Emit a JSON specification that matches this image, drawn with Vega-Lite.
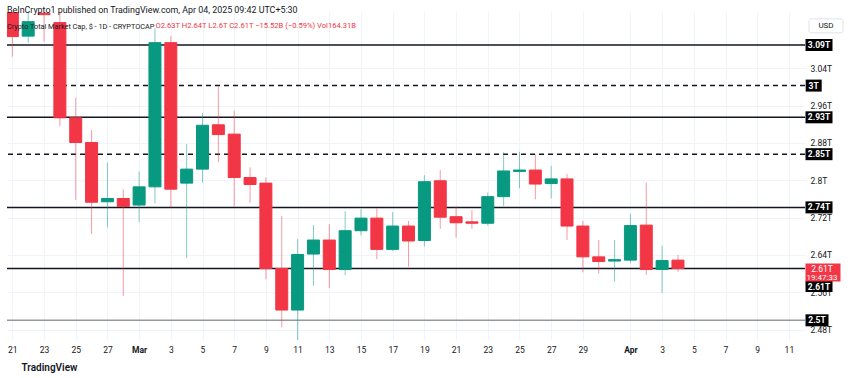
{
  "$schema": "https://vega.github.io/schema/vega-lite/v6.json",
  "width": 798,
  "height": 328,
  "autosize": {"type": "none"},
  "padding": {"left": 7, "top": 12, "right": 45, "bottom": 38},
  "background": "#ffffff",
  "title": {
    "text": "BeInCrypto1 published on TradingView.com, Apr 04, 2025 09:42 UTC+5:30",
    "subtitle": "Crypto Total Market Cap, $ - 1D - CRYPTOCAP",
    "anchor": "start",
    "frame": "group",
    "offset": -18,
    "fontSize": 8.9,
    "fontWeight": "normal",
    "color": "#131722",
    "subtitleFontSize": 7.3,
    "subtitleColor": "#131722",
    "subtitlePadding": 7.5,
    "dx": 0
  },
  "datasets": {
    "candles": [
      {"date": "2025-02-21", "open": 3.17, "high": 3.19, "low": 3.065, "close": 3.108},
      {"date": "2025-02-22", "open": 3.109, "high": 3.165, "low": 3.095, "close": 3.14},
      {"date": "2025-02-23", "open": 3.158, "high": 3.17, "low": 3.097, "close": 3.155},
      {"date": "2025-02-24", "open": 3.138, "high": 3.17, "low": 2.916, "close": 2.934},
      {"date": "2025-02-25", "open": 2.934, "high": 2.977, "low": 2.758, "close": 2.881},
      {"date": "2025-02-26", "open": 2.881, "high": 2.908, "low": 2.685, "close": 2.753},
      {"date": "2025-02-27", "open": 2.754, "high": 2.838, "low": 2.699, "close": 2.761},
      {"date": "2025-02-28", "open": 2.761, "high": 2.781, "low": 2.552, "close": 2.744},
      {"date": "2025-03-01", "open": 2.747, "high": 2.819, "low": 2.711, "close": 2.786},
      {"date": "2025-03-02", "open": 2.786, "high": 3.126, "low": 2.751, "close": 3.095},
      {"date": "2025-03-03", "open": 3.095, "high": 3.109, "low": 2.742, "close": 2.781},
      {"date": "2025-03-04", "open": 2.794, "high": 2.878, "low": 2.633, "close": 2.824},
      {"date": "2025-03-05", "open": 2.824, "high": 2.944, "low": 2.795, "close": 2.918},
      {"date": "2025-03-06", "open": 2.919, "high": 3.001, "low": 2.839, "close": 2.898},
      {"date": "2025-03-07", "open": 2.899, "high": 2.949, "low": 2.744, "close": 2.806},
      {"date": "2025-03-08", "open": 2.806, "high": 2.828, "low": 2.752, "close": 2.791},
      {"date": "2025-03-09", "open": 2.794, "high": 2.806, "low": 2.588, "close": 2.611},
      {"date": "2025-03-10", "open": 2.611, "high": 2.724, "low": 2.485, "close": 2.522},
      {"date": "2025-03-11", "open": 2.522, "high": 2.674, "low": 2.457, "close": 2.641},
      {"date": "2025-03-12", "open": 2.642, "high": 2.704, "low": 2.574, "close": 2.672},
      {"date": "2025-03-13", "open": 2.672, "high": 2.706, "low": 2.569, "close": 2.609},
      {"date": "2025-03-14", "open": 2.609, "high": 2.734, "low": 2.597, "close": 2.692},
      {"date": "2025-03-15", "open": 2.692, "high": 2.738, "low": 2.682, "close": 2.719},
      {"date": "2025-03-16", "open": 2.719, "high": 2.74, "low": 2.631, "close": 2.652},
      {"date": "2025-03-17", "open": 2.652, "high": 2.732, "low": 2.648, "close": 2.702},
      {"date": "2025-03-18", "open": 2.702, "high": 2.713, "low": 2.615, "close": 2.67},
      {"date": "2025-03-19", "open": 2.671, "high": 2.811, "low": 2.658, "close": 2.797},
      {"date": "2025-03-20", "open": 2.799, "high": 2.822, "low": 2.696, "close": 2.721},
      {"date": "2025-03-21", "open": 2.722, "high": 2.744, "low": 2.677, "close": 2.709},
      {"date": "2025-03-22", "open": 2.711, "high": 2.736, "low": 2.696, "close": 2.708},
      {"date": "2025-03-23", "open": 2.708, "high": 2.774, "low": 2.703, "close": 2.765},
      {"date": "2025-03-24", "open": 2.765, "high": 2.86, "low": 2.745, "close": 2.82},
      {"date": "2025-03-25", "open": 2.819, "high": 2.861, "low": 2.783, "close": 2.822},
      {"date": "2025-03-26", "open": 2.822, "high": 2.856, "low": 2.759, "close": 2.792},
      {"date": "2025-03-27", "open": 2.793, "high": 2.831, "low": 2.761, "close": 2.803},
      {"date": "2025-03-28", "open": 2.803, "high": 2.814, "low": 2.672, "close": 2.702},
      {"date": "2025-03-29", "open": 2.702, "high": 2.713, "low": 2.603, "close": 2.636},
      {"date": "2025-03-30", "open": 2.636, "high": 2.672, "low": 2.6, "close": 2.626},
      {"date": "2025-03-31", "open": 2.627, "high": 2.672, "low": 2.583, "close": 2.63},
      {"date": "2025-04-01", "open": 2.629, "high": 2.728, "low": 2.622, "close": 2.703},
      {"date": "2025-04-02", "open": 2.704, "high": 2.795, "low": 2.597, "close": 2.609},
      {"date": "2025-04-03", "open": 2.609, "high": 2.66, "low": 2.559, "close": 2.628},
      {"date": "2025-04-04", "open": 2.629, "high": 2.64, "low": 2.604, "close": 2.611}
    ],
    "levels": [
      {"value": 3.09, "label": "3.09T", "kind": "solid"},
      {"value": 3.003, "label": "3T", "kind": "dashed"},
      {"value": 2.935, "label": "2.93T", "kind": "solid"},
      {"value": 2.856, "label": "2.85T", "kind": "dashed"},
      {"value": 2.742, "label": "2.74T", "kind": "solid"},
      {"value": 2.611, "label": "2.61T", "kind": "solid"},
      {"value": 2.5, "label": "2.5T", "kind": "gray"}
    ],
    "last": [
      {"price": 2.611, "label": "2.61T", "timer": "19:47:33"}
    ]
  },
  "layer": [
    {
      "data": {"name": "levels"},
      "mark": {"type": "rule", "strokeWidth": 1.5},
      "encoding": {
        "y": {
          "field": "value",
          "type": "quantitative",
          "scale": {"domain": [2.4578, 3.1607], "nice": false, "zero": false},
          "axis": {
            "orient": "right",
            "values": [2.48, 2.52, 2.56, 2.6, 2.64, 2.68, 2.72, 2.76, 2.8, 2.84, 2.88, 2.92, 2.96, 3.0, 3.04, 3.08],
            "labelExpr": "(datum.value == 2.6 || datum.value == 3 || datum.value == 3.08) ? '' : format(datum.value, '.2~f') + 'T'",
            "domain": false,
            "ticks": false,
            "labelPadding": 5,
            "labelFontSize": 8.5,
            "labelColor": "#131722",
            "grid": true,
            "gridColor": "#f0f3fa",
            "zindex": 0,
            "title": "O2.63T  H2.64T  L2.6T  C2.61T  −15.52B (−0.59%)  Vol164.31B",
            "titleAngle": 0,
            "titleX": -650,
            "titleY": 13,
            "titleAlign": "left",
            "titleBaseline": "middle",
            "titleFontSize": 7.6,
            "titleFontWeight": "normal",
            "titleColor": "#F23645"
          }
        },
        "strokeDash": {
          "field": "kind",
          "type": "nominal",
          "scale": {"domain": ["solid", "dashed", "gray"], "range": [[1, 0], [5, 4], [1, 0]]},
          "legend": null
        },
        "color": {
          "field": "kind",
          "type": "nominal",
          "scale": {"domain": ["solid", "dashed", "gray"], "range": ["#131722", "#131722", "#9598a1"]},
          "legend": null
        }
      }
    },
    {
      "data": {"name": "candles"},
      "encoding": {
        "x": {
          "field": "date",
          "type": "temporal",
          "scale": {
            "type": "utc",
            "domain": [
              {"year": 2025, "month": 2, "date": 20, "hours": 23, "minutes": 30, "utc": true},
              {"year": 2025, "month": 4, "date": 11, "hours": 16, "minutes": 48, "utc": true}
            ]
          },
          "axis": {
            "values": [
              {"year": 2025, "month": 2, "date": 21, "utc": true},
              {"year": 2025, "month": 2, "date": 23, "utc": true},
              {"year": 2025, "month": 2, "date": 25, "utc": true},
              {"year": 2025, "month": 2, "date": 27, "utc": true},
              {"year": 2025, "month": 3, "date": 1, "utc": true},
              {"year": 2025, "month": 3, "date": 3, "utc": true},
              {"year": 2025, "month": 3, "date": 5, "utc": true},
              {"year": 2025, "month": 3, "date": 7, "utc": true},
              {"year": 2025, "month": 3, "date": 9, "utc": true},
              {"year": 2025, "month": 3, "date": 11, "utc": true},
              {"year": 2025, "month": 3, "date": 13, "utc": true},
              {"year": 2025, "month": 3, "date": 15, "utc": true},
              {"year": 2025, "month": 3, "date": 17, "utc": true},
              {"year": 2025, "month": 3, "date": 19, "utc": true},
              {"year": 2025, "month": 3, "date": 21, "utc": true},
              {"year": 2025, "month": 3, "date": 23, "utc": true},
              {"year": 2025, "month": 3, "date": 25, "utc": true},
              {"year": 2025, "month": 3, "date": 27, "utc": true},
              {"year": 2025, "month": 3, "date": 29, "utc": true},
              {"year": 2025, "month": 4, "date": 1, "utc": true},
              {"year": 2025, "month": 4, "date": 3, "utc": true},
              {"year": 2025, "month": 4, "date": 5, "utc": true},
              {"year": 2025, "month": 4, "date": 7, "utc": true},
              {"year": 2025, "month": 4, "date": 9, "utc": true},
              {"year": 2025, "month": 4, "date": 11, "utc": true}
            ],
            "labelExpr": "utcdate(datum.value) == 1 ? utcFormat(datum.value, '%b') : utcFormat(datum.value, '%-d')",
            "labelFontWeight": {"condition": {"test": "utcdate(datum.value) == 1", "value": "bold"}, "value": "normal"},
            "labelFontSize": 8.5,
            "labelColor": "#131722",
            "labelPadding": 5,
            "labelOverlap": false,
            "labelBound": false,
            "domain": false,
            "ticks": false,
            "grid": true,
            "gridColor": "#f0f3fa",
            "zindex": 0,
            "title": "TradingView",
            "titleX": 14,
            "titleY": 27,
            "titleAlign": "left",
            "titleBaseline": "middle",
            "titleFontSize": 10,
            "titleFontWeight": 600,
            "titleColor": "#131722"
          }
        },
        "color": {
          "condition": {"test": "datum.close >= datum.open", "value": "#089981"},
          "value": "#F23645"
        }
      },
      "layer": [
        {
          "mark": {"type": "rule", "strokeWidth": 1, "opacity": 0.5, "clip": true},
          "encoding": {
            "y": {"field": "low", "type": "quantitative"},
            "y2": {"field": "high"}
          }
        },
        {
          "mark": {"type": "bar", "width": 12, "clip": true, "strokeWidth": 1},
          "encoding": {
            "y": {"field": "open", "type": "quantitative"},
            "y2": {"field": "close"},
            "stroke": {
              "condition": {"test": "datum.close >= datum.open", "value": "#089981"},
              "value": "#F23645"
            }
          }
        }
      ]
    },
    {
      "data": {"name": "levels"},
      "transform": [{"filter": "length(datum.label) == 5 && datum.label != '2.61T'"}],
      "mark": {"type": "tick", "orient": "horizontal", "size": 27, "thickness": 12, "xOffset": 14, "color": "#000000", "opacity": 1, "clip": false},
      "encoding": {
        "x": {"value": "width"},
        "y": {"field": "value", "type": "quantitative"}
      }
    },
    {
      "data": {"name": "levels"},
      "transform": [{"filter": "length(datum.label) == 5 && datum.label != '2.61T'"}],
      "mark": {"type": "text", "xOffset": 14, "align": "center", "baseline": "middle", "fontSize": 8.5, "fontWeight": "bold", "color": "#ffffff", "clip": false},
      "encoding": {
        "x": {"value": "width"},
        "y": {"field": "value", "type": "quantitative"},
        "text": {"field": "label"}
      }
    },
    {
      "data": {"name": "levels"},
      "transform": [{"filter": "datum.label == '2.61T'"}],
      "mark": {"type": "tick", "orient": "horizontal", "size": 27, "thickness": 11, "xOffset": 14, "yOffset": 18, "color": "#000000", "opacity": 1, "clip": false},
      "encoding": {
        "x": {"value": "width"},
        "y": {"field": "value", "type": "quantitative"}
      }
    },
    {
      "data": {"name": "levels"},
      "transform": [{"filter": "datum.label == '2.61T'"}],
      "mark": {"type": "text", "xOffset": 14, "yOffset": 18, "align": "center", "baseline": "middle", "fontSize": 8.5, "fontWeight": "bold", "color": "#ffffff", "clip": false},
      "encoding": {
        "x": {"value": "width"},
        "y": {"field": "value", "type": "quantitative"},
        "text": {"field": "label"}
      }
    },
    {
      "data": {"name": "levels"},
      "transform": [{"filter": "datum.label == '3T'"}],
      "mark": {"type": "tick", "orient": "horizontal", "size": 16, "thickness": 12, "xOffset": 8.7, "color": "#000000", "opacity": 1, "clip": false},
      "encoding": {
        "x": {"value": "width"},
        "y": {"field": "value", "type": "quantitative"}
      }
    },
    {
      "data": {"name": "levels"},
      "transform": [{"filter": "datum.label == '3T'"}],
      "mark": {"type": "text", "xOffset": 8.7, "align": "center", "baseline": "middle", "fontSize": 8.5, "fontWeight": "bold", "color": "#ffffff", "clip": false},
      "encoding": {
        "x": {"value": "width"},
        "y": {"field": "value", "type": "quantitative"},
        "text": {"field": "label"}
      }
    },
    {
      "data": {"name": "levels"},
      "transform": [{"filter": "datum.label == '2.5T'"}],
      "mark": {"type": "tick", "orient": "horizontal", "size": 23, "thickness": 12, "xOffset": 12, "color": "#000000", "opacity": 1, "clip": false},
      "encoding": {
        "x": {"value": "width"},
        "y": {"field": "value", "type": "quantitative"}
      }
    },
    {
      "data": {"name": "levels"},
      "transform": [{"filter": "datum.label == '2.5T'"}],
      "mark": {"type": "text", "xOffset": 12, "align": "center", "baseline": "middle", "fontSize": 8.5, "fontWeight": "bold", "color": "#ffffff", "clip": false},
      "encoding": {
        "x": {"value": "width"},
        "y": {"field": "value", "type": "quantitative"},
        "text": {"field": "label"}
      }
    },
    {
      "data": {"name": "last"},
      "mark": {"type": "tick", "orient": "horizontal", "size": 35, "thickness": 18, "xOffset": 18, "yOffset": 4, "color": "#F23645", "opacity": 1, "clip": false},
      "encoding": {
        "x": {"value": "width"},
        "y": {"field": "price", "type": "quantitative"}
      }
    },
    {
      "data": {"name": "last"},
      "mark": {"type": "text", "xOffset": 17, "yOffset": 0, "align": "center", "baseline": "middle", "fontSize": 8.5, "color": "#ffffff", "clip": false},
      "encoding": {
        "x": {"value": "width"},
        "y": {"field": "price", "type": "quantitative"},
        "text": {"field": "label"}
      }
    },
    {
      "data": {"name": "last"},
      "mark": {"type": "text", "xOffset": 17, "yOffset": 9, "align": "center", "baseline": "middle", "fontSize": 8, "color": "#ffffff", "clip": false},
      "encoding": {
        "x": {"value": "width"},
        "y": {"field": "price", "type": "quantitative"},
        "text": {"field": "timer"}
      }
    },
    {
      "data": {"values": [{"unit": "USD"}]},
      "mark": {"type": "tick", "orient": "horizontal", "size": 34, "thickness": 14, "xOffset": 21, "fill": "#ffffff", "stroke": "#e0e3eb", "strokeWidth": 1, "opacity": 1, "cornerRadius": 2, "clip": false},
      "encoding": {
        "x": {"value": "width"},
        "y": {"datum": 3.131, "type": "quantitative"}
      }
    },
    {
      "data": {"values": [{"unit": "USD"}]},
      "mark": {"type": "text", "xOffset": 21, "align": "center", "baseline": "middle", "fontSize": 8, "color": "#131722", "clip": false},
      "encoding": {
        "x": {"value": "width"},
        "y": {"datum": 3.131, "type": "quantitative"},
        "text": {"field": "unit"}
      }
    }
  ],
  "config": {
    "font": "Roboto",
    "view": {"stroke": null},
    "axisX": {"labelOverlap": false}
  }
}
